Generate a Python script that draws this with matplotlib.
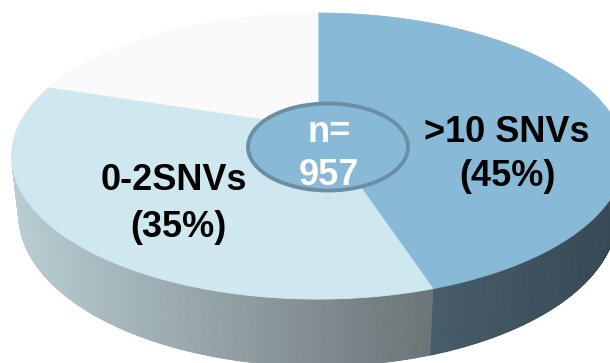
import numpy as np
import matplotlib
matplotlib.use("Agg")
import matplotlib.pyplot as plt
from matplotlib.patches import Polygon, Ellipse
from matplotlib.collections import PolyCollection
from matplotlib.colors import to_rgb

# ---- data ----
categories = [">10 SNVs", "0-2SNVs", "3-10 SNVs"]
shares = [45, 35, 20]                      # percent
show_label = [True, True, False]
total_n = 957

# ---- styling ----
top_colors = ["#88b9d7", "#cfe8f0", "#fafafa"]
side_colors = [("#475c6b", "#364854"), ("#b9ced4", "#6b7376"), ("#d8d8d8", "#c0c0c0")]

# ---- perspective camera for a unit-radius disc of thickness t ----
cx, cy = 318.0, 127.0        # pixel position of the disc centre
f = 1314.0                   # focal scale (pixels)
alpha = np.deg2rad(27.2)     # camera elevation
D = 4.38                     # camera distance (disc radii)
t = 0.221                    # disc thickness
sa, ca = np.sin(alpha), np.cos(alpha)


def project(phi, z=0.0):
    X, Y = np.cos(phi), np.sin(phi)
    depth = D + Y * ca - z * sa
    up = Y * sa + z * ca
    return cx + f * X / depth, cy - f * up / depth


W, H = 610, 363
fig = plt.figure(figsize=(W / 100, H / 100), dpi=100)
ax = fig.add_axes([0, 0, 1, 1])
ax.set_xlim(0, W)
ax.set_ylim(H, 0)
ax.axis("off")

# slice angles: first slice starts at 12 o'clock, slices run clockwise
fr = np.array(shares, dtype=float) / sum(shares)
starts = np.pi / 2 - 2 * np.pi * np.concatenate([[0], np.cumsum(fr)[:-1]])
ends = starts - 2 * np.pi * fr

# outer wall visible where sin(phi) < -1/(D*cos(alpha))
lim = np.arcsin(-1.0 / (D * ca))
vis_lo, vis_hi = -np.pi - lim, lim     # in (-pi, 0)

polys, cols = [], []
for s0, s1, (cl, cr) in zip(starts, ends, side_colors):
    # bring slice interval into range and intersect with the visible band
    for shift in (0.0, -2 * np.pi, 2 * np.pi):
        a_hi, a_lo = s0 + shift, s1 + shift
        lo, hi = max(a_lo, vis_lo), min(a_hi, vis_hi)
        if hi <= lo:
            continue
        ph = np.linspace(lo, hi, 300)
        xt, yt = project(ph, 0.0)
        xb, yb = project(ph, -t)
        xmin, xmax = min(xt.min(), xb.min()), max(xt.max(), xb.max())
        c_l, c_r = np.array(to_rgb(cl)), np.array(to_rgb(cr))
        for i in range(len(ph) - 1):
            quad = [(xt[i], yt[i]), (xt[i + 1], yt[i + 1]),
                    (xb[i + 1], yb[i + 1]), (xb[i], yb[i])]
            xm = 0.25 * (xt[i] + xt[i + 1] + xb[i] + xb[i + 1])
            u = (xm - xmin) / max(xmax - xmin, 1e-9)
            polys.append(quad)
            cols.append(tuple(c_l + (c_r - c_l) * u))

ax.add_collection(PolyCollection(polys, facecolors=cols, edgecolors=cols,
                                 linewidths=0.6, antialiased=True))

# top faces
for s0, s1, col in zip(starts, ends, top_colors):
    ph = np.linspace(s0, s1, 200)
    xs, ys = project(ph, 0.0)
    pts = [(cx, cy)] + list(zip(xs, ys))
    ax.add_patch(Polygon(pts, closed=True, facecolor=col, edgecolor=col,
                         linewidth=0.6))

# slice labels
font = ["Liberation Sans", "DejaVu Sans"]
label_pos = {0: ((507, 142), (507, 186)), 1: ((174, 190), (178, 237))}
for i, (name, pct) in enumerate(zip(categories, shares)):
    if not show_label[i]:
        continue
    (x1, y1), (x2, y2) = label_pos[i]
    ax.text(x1, y1, name, ha="center", va="baseline", fontsize=26,
            fontweight="bold", family=font, color="black")
    ax.text(x2, y2, f"({pct}%)", ha="center", va="baseline", fontsize=26,
            fontweight="bold", family=font, color="black")

# sample-size badge
ax.add_patch(Ellipse((328, 147), 160, 87, facecolor="#88b9d7",
                     edgecolor="#6a8fa4", linewidth=2.8))
ax.text(329, 142, "n=", ha="center", va="baseline", fontsize=26,
        fontweight="bold", family=font, color="white")
ax.text(329, 185, f"{total_n}", ha="center", va="baseline", fontsize=26,
        fontweight="bold", family=font, color="white")

fig.savefig("out.png", dpi=100, facecolor="white")
